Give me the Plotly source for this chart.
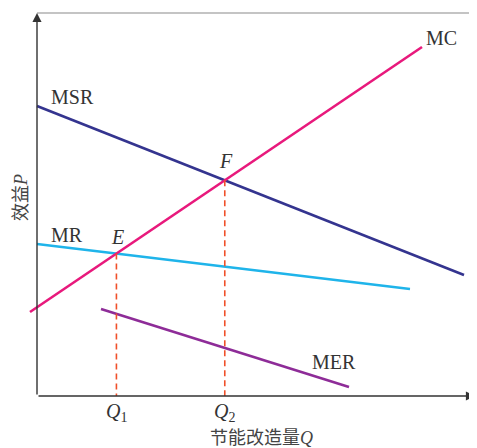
import plotly.graph_objects as go

# ─── data (chart units, origin at the axes corner) ───────────────────────────
msr_x = [0, 427]
msr_y = [290, 121]
mc_x = [-7, 385]
mc_y = [84, 349]
mr_x = [0, 373]
mr_y = [152, 107]
mer_x = [64, 312]
mer_y = [87, 9]

X_END, Y_END = 438, 383

COL = {"msr": "#34348f", "mc": "#e8197c", "mr": "#1fb4ea", "mer": "#8e2c98",
       "dash": "#f0502a", "axis": "#333333", "text": "#333333", "frame": "#8a8a8a"}
SERIF = "Liberation Serif, Times New Roman, serif"
CJK = "Noto Sans CJK SC, sans-serif"


def _line(xs, ys):
    k = (ys[1] - ys[0]) / (xs[1] - xs[0])
    return k, ys[0] - k * xs[0]


def _cross(a, b):
    (k1, b1), (k2, b2) = _line(*a), _line(*b)
    x = (b2 - b1) / (k1 - k2)
    return x, k1 * x + b1


ex, ey = _cross((mc_x, mc_y), (mr_x, mr_y))
fx, fy = _cross((mc_x, mc_y), (msr_x, msr_y))

fig = go.Figure()
for xs, ys, key in [(msr_x, msr_y, "msr"), (mr_x, mr_y, "mr"),
                    (mer_x, mer_y, "mer"), (mc_x, mc_y, "mc")]:
    fig.add_trace(go.Scatter(x=xs, y=ys, mode="lines", name=key.upper(),
                             line=dict(color=COL[key], width=2.6), hoverinfo="skip"))

# drop lines from E and F
for qx, qy in [(ex, ey), (fx, fy)]:
    fig.add_trace(go.Scatter(x=[qx, qx], y=[qy, 0], mode="lines",
                             line=dict(color=COL["dash"], width=1.6, dash="6px,4px"),
                             hoverinfo="skip"))

# frame line on top
fig.add_shape(type="line", x0=0, x1=445, y0=Y_END, y1=Y_END,
              line=dict(color=COL["frame"], width=1.2))

anns = []
# axes with arrows
for tip, tail in [((X_END, 0), (0, 0)), ((0, Y_END), (0, 0))]:
    anns.append(dict(x=tip[0], y=tip[1], ax=tail[0], ay=tail[1], xref="x", yref="y",
                     axref="x", ayref="y", text="", showarrow=True, arrowhead=2,
                     arrowsize=1.3, arrowwidth=1.4, arrowcolor=COL["axis"], standoff=0))

lab = dict(showarrow=False, font=dict(family=SERIF, size=20, color=COL["text"]))
anns += [
    dict(x=35, y=299, text="MSR", **lab),
    dict(x=30, y=161, text="MR", **lab),
    dict(x=404, y=358, text="MC", **lab),
    dict(x=297, y=34, text="MER", **lab),
    dict(x=ex + 1, y=ey, yshift=17, text="<i>E</i>", **lab),
    dict(x=fx + 1, y=fy, yshift=19, text="<i>F</i>", **lab),
    dict(x=ex, y=-16, text="<i>Q</i><sub>1</sub>", **lab),
    dict(x=fx, y=-16, text="<i>Q</i><sub>2</sub>", **lab),
    dict(x=224, y=-40, text="节能改造量<i><span style='font-family:Liberation Serif'>Q</span></i>",
         showarrow=False, font=dict(family=CJK, size=18, color="#444444")),
    dict(x=-18, y=198, text="效益<i><span style='font-family:Liberation Serif'>P</span></i>",
         textangle=-90, showarrow=False, font=dict(family=CJK, size=18, color="#444444")),
]

# the page body keeps its 8px margin, so the figure is sized to the space left
fig.update_layout(
    width=469, height=440,
    paper_bgcolor="#ffffff", plot_bgcolor="#ffffff",
    margin=dict(l=0, r=0, t=0, b=0, pad=0, autoexpand=False),
    xaxis=dict(range=[-29, 440], visible=False, fixedrange=True),
    yaxis=dict(range=[-52, 388], visible=False, fixedrange=True),
    showlegend=False,
    annotations=anns,
)
fig.write_html("out.html")
